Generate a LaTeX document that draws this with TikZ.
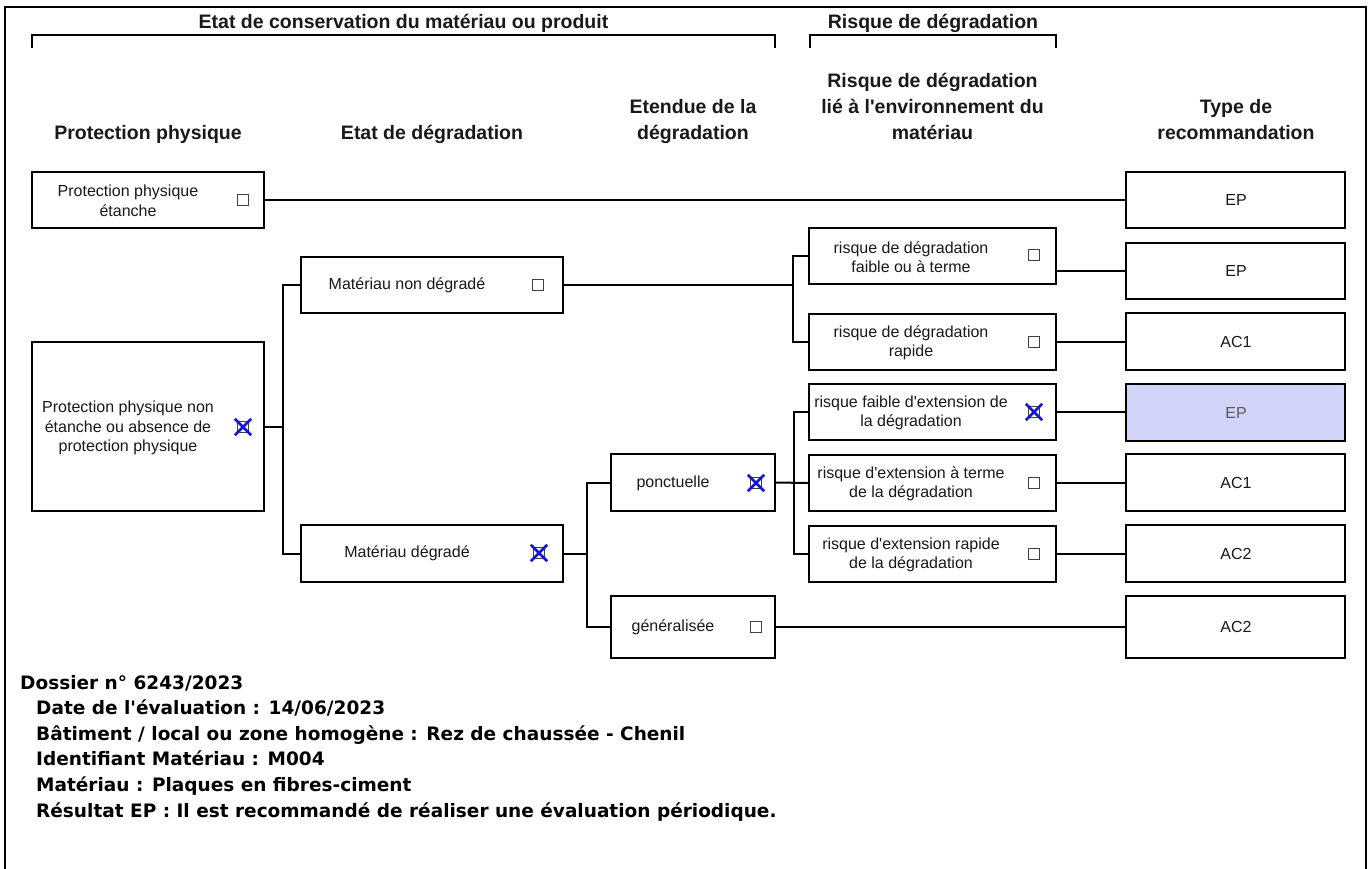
\documentclass[tikz,border=0pt]{standalone}
\usepackage{fontspec}
\setmainfont{Liberation Sans}
\newfontfamily\verd{DejaVu Sans}
\newcommand{\apos}{\textquotesingle}
\definecolor{selblue}{RGB}{210,212,250}
\definecolor{xblue}{RGB}{20,20,215}
\begin{document}
\begin{tikzpicture}[x=1pt,y=-1pt,
  box/.style={draw=black, line width=2.4pt, inner sep=0pt, rectangle, fill=white},
  lbl/.style={font=\fontsize{16}{19.5}\selectfont, align=center, inner sep=0pt, text=black!90},
  hdr/.style={font=\fontsize{19.5}{26}\selectfont\bfseries, align=center, inner sep=0pt, anchor=base, text=black!90},
  cbox/.style={draw=black!75, line width=1.3pt, minimum size=11pt, inner sep=0pt},
  cross/.style={xblue, line width=2.7pt},
  conn/.style={line width=2pt},
  brk/.style={line width=2pt}]
\useasboundingbox (0,0) rectangle (1372,868);
\fill[white] (0,0) rectangle (1372,868);
% outer frame
\draw[line width=2pt] (5,872) -- (5,7) -- (1366,7) -- (1366,872);

% group headers
\node[hdr] (g1) at (403.5,28) {Etat de conservation du matériau ou produit};
\draw[brk] (32,48) -- (32,35) -- (775,35) -- (775,48);
\node[hdr] (g2) at (933,28) {Risque de dégradation};
\draw[brk] (810,48) -- (810,35) -- (1056,35) -- (1056,48);

% column headers (base = baseline of last line)
\node[hdr] (h1) at (148,139) {Protection physique};
\node[hdr] (h2) at (432,139) {Etat de dégradation};
\node[hdr] (h3) at (693,139) {Etendue de la\\dégradation};
\node[hdr] (h4) at (932.5,139) {Risque de dégradation\\lié à l\apos environnement du\\matériau};
\node[hdr] (h5) at (1236,139) {Type de\\recommandation};

% column 1
\node[box, minimum width=232pt, minimum height=56pt] (ppe) at (148,200) {};
\node[lbl] (ppel) at (128,201) {Protection physique\\étanche};
\node[cbox] (cbppe) at (243,200) {};
\node[box, minimum width=232pt, minimum height=169pt] (ppn) at (148,426.5) {};
\node[lbl] (ppnl) at (128,428) {Protection physique non\\étanche ou absence de\\protection physique};
\node[cbox] (cbppn) at (243,427) {};

% column 2
\node[box, minimum width=262pt, minimum height=56pt] (mnd) at (432,285) {};
\node[lbl] (mndl) at (407,285) {Matériau non dégradé};
\node[cbox] (cbmnd) at (538,285) {};
\node[box, minimum width=262pt, minimum height=57pt] (md) at (432,553.5) {};
\node[lbl] (mdl) at (407,553) {Matériau dégradé};
\node[cbox] (cbmd) at (539,553) {};

% column 3
\node[box, minimum width=164pt, minimum height=57pt] (pon) at (693,482.5) {};
\node[lbl] (ponl) at (673,483) {ponctuelle};
\node[cbox] (cbpon) at (756,483) {};
\node[box, minimum width=164pt, minimum height=62pt] (gen) at (693,627) {};
\node[lbl] (genl) at (673,627) {généralisée};
\node[cbox] (cbgen) at (756,627) {};

% column 4
\node[box, minimum width=247pt, minimum height=56pt] (r1) at (932.5,256) {};
\node[lbl] (r1l) at (911,257) {risque de dégradation\\faible ou à terme};
\node[cbox] (cbr1) at (1034,255) {};
\node[box, minimum width=247pt, minimum height=56pt] (r2) at (932.5,342) {};
\node[lbl] (r2l) at (911,343) {risque de dégradation\\rapide};
\node[cbox] (cbr2) at (1034,342) {};
\node[box, minimum width=247pt, minimum height=56pt] (r3) at (932.5,412) {};
\node[lbl] (r3l) at (911,413) {risque faible d\apos extension de\\la dégradation};
\node[cbox] (cbr3) at (1034,412) {};
\node[box, minimum width=247pt, minimum height=56pt] (r4) at (932.5,483) {};
\node[lbl] (r4l) at (911,484) {risque d\apos extension à terme\\de la dégradation};
\node[cbox] (cbr4) at (1034,483) {};
\node[box, minimum width=247pt, minimum height=56pt] (r5) at (932.5,554) {};
\node[lbl] (r5l) at (911,555) {risque d\apos extension rapide\\de la dégradation};
\node[cbox] (cbr5) at (1034,554) {};

% column 5
\node[box, minimum width=219pt, minimum height=56pt] (ep1) at (1235.5,200) {};
\node[lbl] (ep1l) at (1236,200) {EP};
\node[box, minimum width=219pt, minimum height=56pt] (ep2) at (1235.5,271) {};
\node[lbl] (ep2l) at (1236,271) {EP};
\node[box, minimum width=219pt, minimum height=57pt] (ac1a) at (1235.5,341.5) {};
\node[lbl] (ac1al) at (1236,342) {AC1};
\node[box, minimum width=219pt, minimum height=57pt, fill=selblue] (epb) at (1235.5,412.5) {};
\node[lbl, text=black!65] (epbl) at (1236,413) {EP};
\node[box, minimum width=219pt, minimum height=57pt] (ac1b) at (1235.5,482.5) {};
\node[lbl] (ac1bl) at (1236,483) {AC1};
\node[box, minimum width=219pt, minimum height=57pt] (ac2a) at (1235.5,553.5) {};
\node[lbl] (ac2al) at (1236,554) {AC2};
\node[box, minimum width=219pt, minimum height=62pt] (ac2b) at (1235.5,627) {};
\node[lbl] (ac2bl) at (1236,627) {AC2};

% crosses on selected boxes
\foreach \c in {cbppn,cbmd,cbpon,cbr3}{
  \draw[cross] ([shift={(-2,-2)}]\c.north west) -- ([shift={(2,2)}]\c.south east);
  \draw[cross] ([shift={(2,-2)}]\c.north east) -- ([shift={(-2,2)}]\c.south west);
}

% bracket coordinates
\coordinate (b1) at (283,0);
\coordinate (b2) at (587,0);
\coordinate (b3) at (793,0);
\coordinate (b4) at (794,0);

% connectors
\draw[conn] (ppe.east) -- (ep1.west);
\draw[conn] (ppn.east) -- (ppn.east -| b1);
\draw[conn] (mnd.west) -- (mnd.west -| b1) -- (md.west -| b1) -- (md.west);
\draw[conn] (mnd.east) -- (mnd.east -| b3);
\draw[conn] (r1.west) -- (r1.west -| b3) -- (r2.west -| b3) -- (r2.west);
\draw[conn] (md.east) -- (md.east -| b2);
\draw[conn] (pon.west) -- (pon.west -| b2) -- (gen.west -| b2) -- (gen.west);
\draw[conn] (pon.east) -- (r4.west);
\draw[conn] (r3.west) -- (r3.west -| b4) -- (r5.west -| b4) -- (r5.west);
\draw[conn] (gen.east) -- (ac2b.west);
\draw[conn] (r1.east |- ep2.west) -- (ep2.west);
\draw[conn] (r2.east) -- (ac1a.west |- r2.east);
\draw[conn] (r3.east) -- (epb.west |- r3.east);
\draw[conn] (r4.east) -- (ac1b.west |- r4.east);
\draw[conn] (r5.east) -- (ac2a.west |- r5.east);

% bottom information (base = baseline of last line)
\node[anchor=base west, align=left, inner sep=0pt,
  font=\verd\bfseries\fontsize{18.5}{25.6}\selectfont] (info) at (20,817)
  {Dossier n° 6243/2023\\
   \hspace*{16pt}Date de l\apos évaluation : 14/06/2023\\
   \hspace*{16pt}Bâtiment / local ou zone homogène : Rez de chaussée - Chenil\\
   \hspace*{16pt}Identifiant Matériau : M004\\
   \hspace*{16pt}Matériau : Plaques en fibres-ciment\\
   \hspace*{16pt}Résultat EP : Il est recommandé de réaliser une évaluation périodique.};
\end{tikzpicture}
\end{document}
